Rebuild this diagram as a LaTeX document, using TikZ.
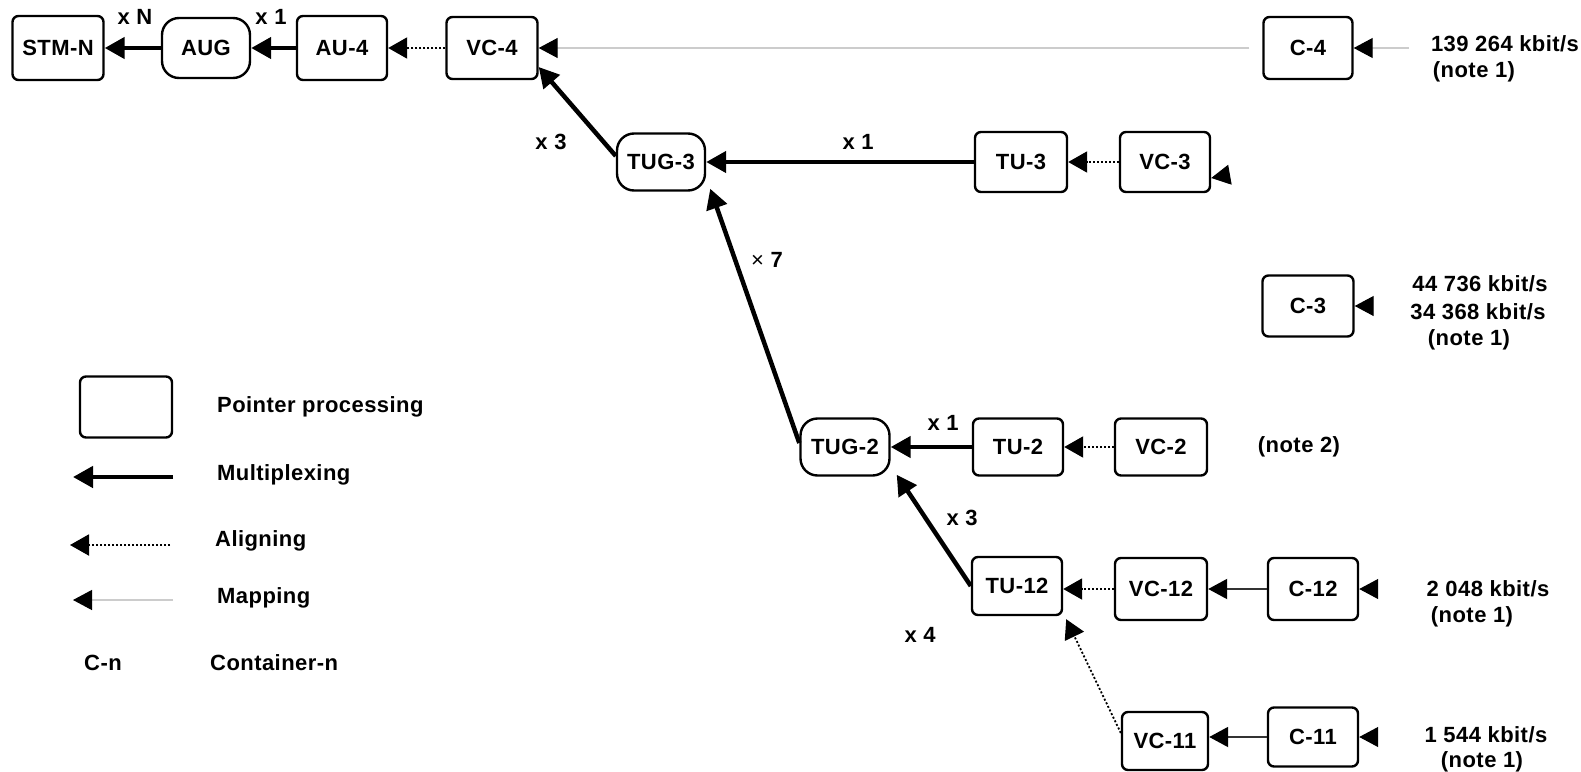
\documentclass[tikz,border=0pt]{standalone}
\usepackage{fontspec}
\setmainfont[LetterSpace=2]{Liberation Sans}
\usetikzlibrary{arrows.meta}
\newcommand\lbl{\fontsize{22}{26}\selectfont\bfseries}
\begin{document}
\begin{tikzpicture}[x=1pt,y=-1pt,
 box/.style={draw, line width=2.4pt, rounded corners=6pt, minimum width=90pt, minimum height=60pt, inner sep=0pt, font=\lbl},
 rbox/.style={box, rounded corners=17pt, minimum height=57pt},
 lab/.style={font=\lbl, inner sep=0pt},
 mux/.style={line width=4.5pt, -{Triangle[length=20pt,width=21pt]}},
 aln/.style={line width=2pt, dash pattern=on 2pt off 2pt, -{Triangle[length=19pt,width=21pt]}},
 map/.style={line width=1.2pt, draw=black!20, -{Triangle[length=19pt,width=20pt,color=black]}},
 mapd/.style={line width=2pt, draw=black!80, -{Triangle[length=19pt,width=20pt,color=black]}},
]
\useasboundingbox[fill=white] (0,0) rectangle (1581,771);

% boxes
\node[box, minimum width=91pt, minimum height=64pt] (stm) at (58,48) {STM-N};
\node[rbox, minimum height=60pt, minimum width=88pt] (aug) at (206,48) {AUG};
\node[box, minimum height=64pt] (au4) at (342,48) {AU-4};
\node[box, minimum width=91pt, minimum height=62pt] (vc4) at (492,48) {VC-4};
\node[box, minimum width=89pt, minimum height=62pt] (c4) at (1308,48) {C-4};
\node[rbox, minimum width=88pt] (tug3) at (661,162) {TUG-3};
\node[box, minimum width=92pt] (tu3) at (1021,162) {TU-3};
\node[box] (vc3) at (1165,162) {VC-3};
\node[box, minimum width=91pt, minimum height=61pt] (c3) at (1308,306) {C-3};
\node[rbox, minimum width=89pt] (tug2) at (845,447) {TUG-2};
\node[box, minimum height=57pt] (tu2) at (1018,447) {TU-2};
\node[box, minimum height=57pt, minimum width=92pt] (vc2) at (1161,447) {VC-2};
\node[box, minimum height=58pt] (tu12) at (1017,586) {TU-12};
\node[box, minimum height=62pt, minimum width=92pt] (vc12) at (1161,589) {VC-12};
\node[box, minimum height=62pt] (c12) at (1313,589) {C-12};
\node[box, minimum width=86pt, minimum height=58pt] (vc11) at (1165,741) {VC-11};
\node[box, minimum height=59pt] (c11) at (1313,737) {C-11};

% row 1
\draw[mux] (aug.west) -- (stm.east);
\draw[mux] (au4.west) -- (aug.east);
\draw[aln] (vc4.west) -- (au4.east);
\draw[map, shorten <=13pt] (c4.west) -- (vc4.east);
\coordinate (in4) at (1409,48);
\draw[map] (in4) -- (c4.east);

% TUG-3
\draw[mux] ([yshift=6pt]tug3.west) -- ([yshift=-19pt]vc4.east);
\draw[mux] (tu3.west) -- (tug3.east);
\draw[aln] (vc3.west) -- (tu3.east);
\coordinate (m3) at (1234,174);
\draw[map, draw=white] (m3) -- ([yshift=-16pt]vc3.east);

% C-3
\coordinate (in3) at (1377,306);
\draw[map, draw=white] (in3) -- (c3.east);

% TUG-2
\draw[mux] ([yshift=4pt]tug2.west) -- ([shift={(4pt,3pt)}]tug3.south east);
\draw[mux] (tu2.west) -- (tug2.east);
\draw[aln] (vc2.west) -- (tu2.east);

% TU-12
\draw[mux] (tu12.west) -- ([shift={(6pt,2pt)}]tug2.south east);
\draw[aln] (vc12.west) -- (vc12.west -| tu12.east);
\draw[mapd] (c12.west) -- (vc12.east);
\coordinate (in12) at (1379,589);
\draw[map, draw=white] (in12) -- (c12.east);
\draw[aln, line width=1.8pt] ([yshift=8pt]vc11.west) -- ([shift={(3pt,-3pt)}]tu12.south east);
\draw[mapd] (c11.west) -- (c11.west -| vc11.east);
\coordinate (in11) at (1379,737);
\draw[map, draw=white] (in11) -- (c11.east);

% multiplicity labels
\node[lab] (lxN) at (135,17) {x N};
\node[lab] (lx1a) at (271,17) {x 1};
\node[lab] (lx3a) at (551,142) {x 3};
\node[lab] (lx1b) at (858,142) {x 1};
\node[lab] (lx7) at (767,260) {{\mdseries ×} 7};
\node[lab] (lx1c) at (943,423) {x 1};
\node[lab] (lx3b) at (962,518) {x 3};
\node[lab] (lx4) at (920,635) {x 4};

% rates
\node[lab] (r4a) at (1505,44) {139 264 kbit/s};
\node[lab] (r4b) at (1474,72) {(note 1)};
\node[lab] (r3a) at (1480,284) {44 736 kbit/s};
\node[lab] (r3b) at (1478,312) {34 368 kbit/s};
\node[lab] (r3c) at (1469,340) {(note 1)};
\node[lab] (n2) at (1299,447) {(note 2)};
\node[lab] (r12a) at (1488,589) {2 048 kbit/s};
\node[lab] (r12b) at (1472,617) {(note 1)};
\node[lab] (r11a) at (1486,735) {1 544 kbit/s};
\node[lab] (r11b) at (1482,762) {(note 1)};

% legend
\node[box, minimum width=92pt, minimum height=61pt] (lg) at (126,407) {};
\node[lab, anchor=west] (lgt1) at (217,407) {Pointer processing};
\coordinate (lm0) at (73,477); \coordinate (lm1) at (173,477);
\draw[mux] (lm1) -- (lm0);
\node[lab, anchor=west] (lgt2) at (217,475) {Multiplexing};
\coordinate (la0) at (70,545); \coordinate (la1) at (170,545);
\draw[aln] (la1) -- (la0);
\node[lab, anchor=west] (lgt3) at (215,541) {Aligning};
\coordinate (lp0) at (73,600); \coordinate (lp1) at (173,600);
\draw[map] (lp1) -- (lp0);
\node[lab, anchor=west] (lgt4) at (217,598) {Mapping};
\node[lab] (lcn) at (103,663) {C-n};
\node[lab, anchor=west] (lgt5) at (210,663) {Container-n};
\end{tikzpicture}
\end{document}
